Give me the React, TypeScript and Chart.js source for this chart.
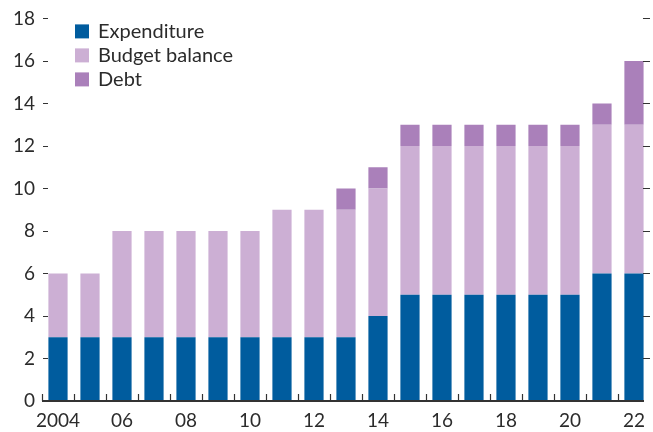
import React, { useEffect, useRef } from "react";
import { Chart, registerables } from "chart.js";

Chart.register(...registerables);

const years = ["2004","2005","2006","2007","2008","2009","2010","2011","2012","2013","2014","2015","2016","2017","2018","2019","2020","2021","2022"];
const tickLabels = ["2004","","06","","08","","10","","12","","14","","16","","18","","20","","22"];
const expenditure = [3,3,3,3,3,3,3,3,3,3,4,5,5,5,5,5,5,6,6];
const budgetBalance = [3,3,5,5,5,5,5,6,6,6,6,7,7,7,7,7,7,7,7];
const debt = [0,0,0,0,0,0,0,0,0,1,1,1,1,1,1,1,1,1,3];
const yTicks = [0,2,4,6,8,10,12,14,16,18];

const FONT = "Lato, 'Open Sans', sans-serif";
const TEXT = "#2b2b2b";

const axisPlugin = {
  id: "customAxis",
  afterDraw(chart: any) {
    const { ctx, chartArea } = chart;
    const x = chart.scales.x;
    const y = chart.scales.y;
    ctx.save();
    ctx.strokeStyle = "#333";
    const y0 = y.getPixelForValue(0);
    // baseline
    ctx.lineWidth = 2;
    ctx.beginPath();
    ctx.moveTo(chartArea.left, y0);
    ctx.lineTo(chartArea.right - 6, y0);
    ctx.stroke();
    // x ticks at category boundaries
    ctx.lineWidth = 1.2;
    const n = chart.data.labels.length;
    for (let i = 0; i < n; i++) {
      const px = i === 0 ? chartArea.left : (x.getPixelForValue(i - 1) + x.getPixelForValue(i)) / 2;
      const xx = Math.round(px) + 0.5;
      ctx.beginPath();
      ctx.moveTo(xx, y0);
      ctx.lineTo(xx, y0 - 7);
      ctx.stroke();
    }
    // y tick dashes, left and right
    for (const v of yTicks) {
      if (v === 0) continue;
      const py = Math.round(y.getPixelForValue(v)) + 0.5;
      ctx.beginPath();
      ctx.moveTo(chartArea.left + 1, py);
      ctx.lineTo(chartArea.left + 6, py);
      ctx.moveTo(chartArea.right - 7, py);
      ctx.lineTo(chartArea.right, py);
      ctx.stroke();
    }
    // legend
    ctx.font = `20px ${FONT}`;
    ctx.textBaseline = "middle";
    ctx.textAlign = "left";
    chart.data.datasets.forEach((ds: any, i: number) => {
      const bx = chartArea.left + 33;
      const by = chartArea.top + 6 + i * 24;
      ctx.fillStyle = ds.backgroundColor;
      ctx.fillRect(bx, by, 14, 14);
      ctx.fillStyle = TEXT;
      ctx.fillText(ds.label, bx + 23, by + 7.5);
    });
    ctx.restore();
  },
};

export default function App() {
  const ref = useRef<HTMLCanvasElement>(null);
  useEffect(() => {
    document.body.style.margin = "0";
    const chart = new Chart(ref.current!, {
      type: "bar",
      data: {
        labels: years,
        datasets: [
          { label: "Expenditure", data: expenditure, backgroundColor: "#005c9e" },
          { label: "Budget balance", data: budgetBalance, backgroundColor: "#ccafd4" },
          { label: "Debt", data: debt, backgroundColor: "#aa80ba" },
        ],
      },
      options: {
        responsive: false,
        animation: false,
        layout: { padding: { top: 7, right: 0, left: 0, bottom: 0 } },
        plugins: { legend: { display: false }, tooltip: { enabled: false } },
        datasets: { bar: { categoryPercentage: 1, barPercentage: 0.6 } },
        scales: {
          x: {
            stacked: true,
            grid: { display: false, drawTicks: false },
            border: { display: false },
            ticks: {
              autoSkip: false,
              maxRotation: 0,
              padding: 8,
              color: TEXT,
              font: { family: FONT, size: 19 },
              callback: (_v: any, i: number) => tickLabels[i],
            },
            afterFit: (s: any) => { s.height = 31; },
          },
          y: {
            stacked: true,
            min: 0,
            max: 18,
            grid: { display: false, drawTicks: false },
            border: { display: false },
            ticks: {
              stepSize: 2,
              padding: 7,
              color: TEXT,
              font: { family: FONT, size: 19 },
            },
            afterFit: (s: any) => { s.width = 42; },
          },
        },
      },
      plugins: [axisPlugin],
    });
    return () => chart.destroy();
  }, []);
  return <canvas ref={ref} width={653} height={432} style={{ display: "block" }} />;
}
